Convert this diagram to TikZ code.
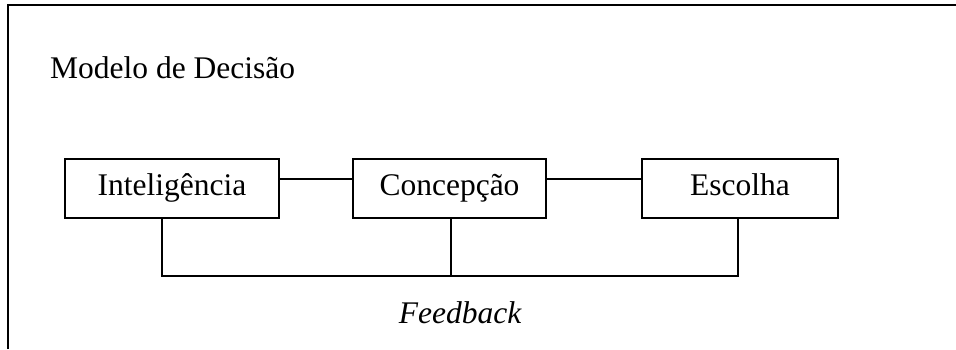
\documentclass[tikz,border=0pt]{standalone}
\usepackage{fontspec}
\setmainfont{Liberation Serif}
\begin{document}
\begin{tikzpicture}[x=1pt,y=-1pt,
  stagebox/.style={draw,line width=1.4pt,minimum width=#1,minimum height=59pt,
    text height=20pt,text depth=7pt,inner sep=0pt,font=\fontsize{31.5}{36}\selectfont},
  link/.style={line width=1.4pt}]
\useasboundingbox (0,0) rectangle (956,349);
\draw[line width=2pt] (8,349) -- (8,5) -- (956,5);
\node[anchor=base west,font=\fontsize{31.5}{36}\selectfont,inner sep=0pt] (title) at (50,78) {Modelo de Decisão};
\node[stagebox=214pt] (int) at (172,188.5) {Inteligência};
\node[stagebox=193pt] (con) at (449.5,188.5) {Concepção};
\node[stagebox=196pt] (esc) at (740,188.5) {Escolha};
\coordinate (intb) at (162,276);
\coordinate (conb) at (451,276);
\coordinate (escb) at (738,276);
\draw[link] (int.east |- 0,179) -- (con.west |- 0,179);
\draw[link] (con.east |- 0,179) -- (esc.west |- 0,179);
\draw[link] (int.south -| intb) -- (intb) -- (escb) -- (esc.south -| escb);
\draw[link] (con.south -| conb) -- (conb);
\node[anchor=base,font=\fontsize{31.5}{36}\selectfont\itshape,inner sep=0pt] (fb) at (460,323) {Feedback};
\end{tikzpicture}
\end{document}
